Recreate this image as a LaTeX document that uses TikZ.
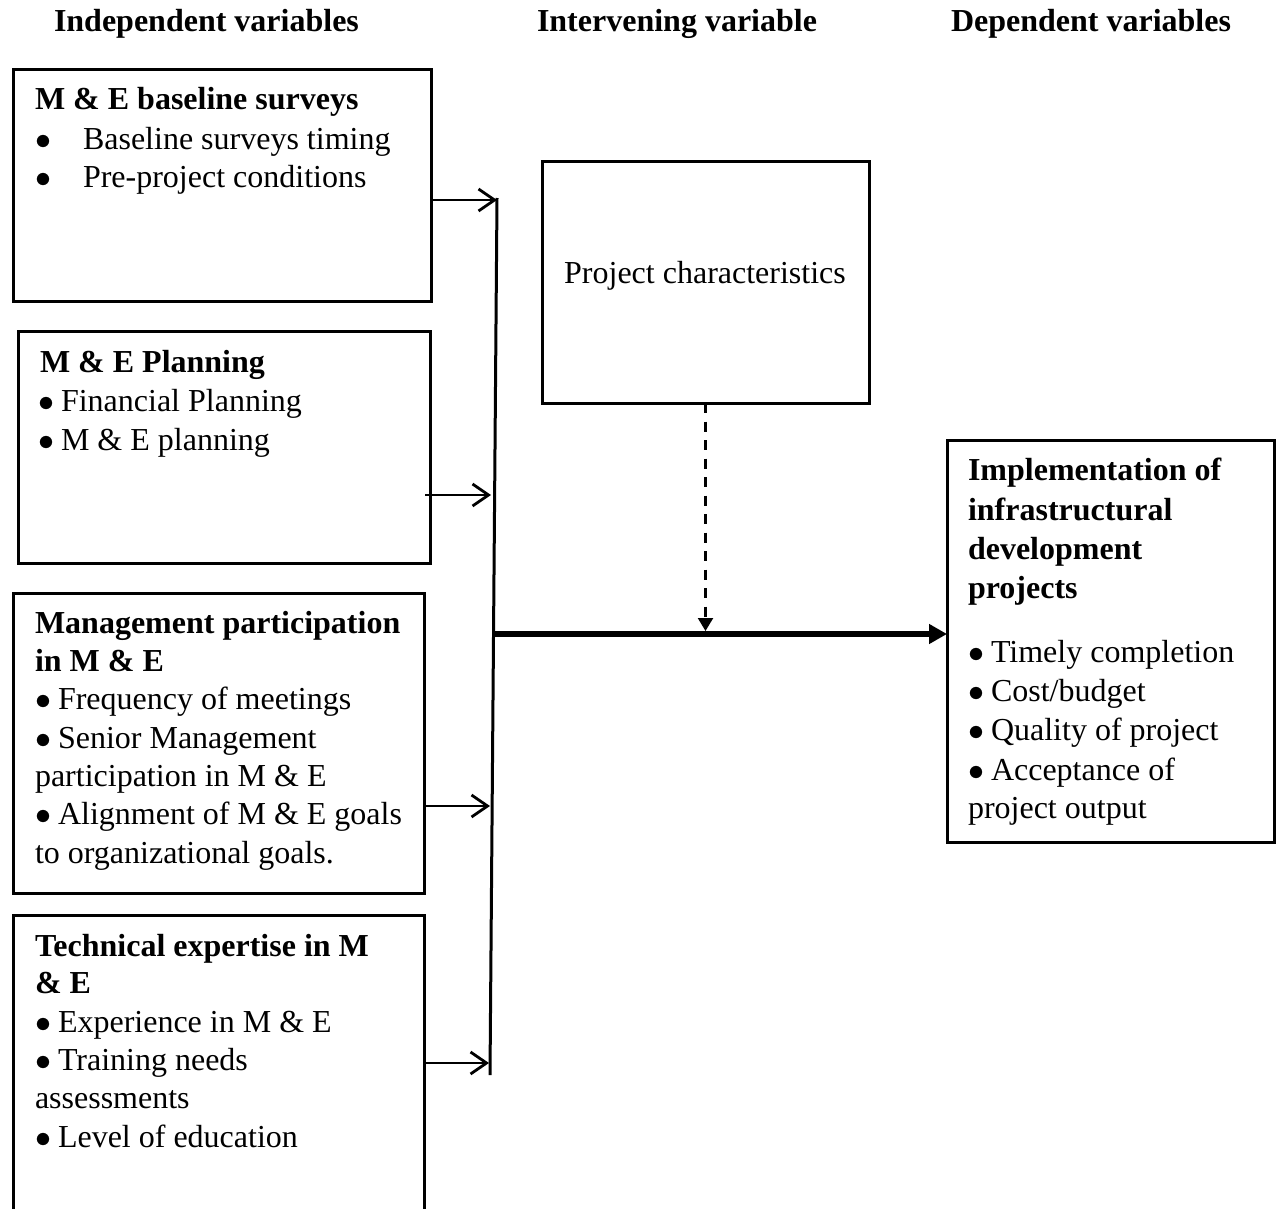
\RequirePackage{fix-cm}
\documentclass[tikz,border=0pt]{standalone}
\usepackage{fontspec}
\setmainfont{Liberation Serif}
\usetikzlibrary{arrows.meta,calc}
\newcommand\bul{\makebox[23pt][l]{$\bullet$}}
\begin{document}
\begin{tikzpicture}[x=1pt,y=-1pt,
  txt/.style={anchor=base west,inner sep=0pt,outer sep=0pt,font=\fontsize{32}{39}\selectfont},
  hd/.style={anchor=base west,inner sep=0pt,outer sep=0pt,font=\fontsize{32}{39}\selectfont\bfseries},
  frame/.style={draw,line width=3pt,inner sep=0pt,outer sep=0pt,anchor=north west},
  openframe/.style={inner sep=0pt,outer sep=0pt,anchor=north west},
  conn/.style={line width=3pt},
  feed/.style={line width=2.8pt,-{Straight Barb[length=16pt,width=22pt]}},
  mainarr/.style={line width=6pt,-{Triangle[length=18pt,width=19pt]}},
  modarr/.style={line width=2.2pt,dash pattern=on 10pt off 8.5pt,-{Triangle[length=13pt,width=15pt]}}
]
\useasboundingbox (0,0) rectangle (1279,1209);

% headers
\node[hd] (h1) at (54,32) {Independent variables};
\node[hd] (h2) at (537,32) {Intervening variable};
\node[hd] (h3) at (951,32) {Dependent variables};

% boxes
\node[frame,minimum width=418pt,minimum height=231pt] (b1) at (13,70) {};
\node[frame,minimum width=412pt,minimum height=232pt] (b2) at (18,331) {};
\node[frame,minimum width=411pt,minimum height=300pt] (b3) at (13,593) {};
\node[openframe,minimum width=411pt,minimum height=294pt] (b4) at (13,915) {};
\draw[line width=3pt] (b4.south west) -- (b4.north west) -- (b4.north east) -- (b4.south east);
\node[frame,minimum width=327pt,minimum height=241pt] (pc) at (542,162) {};
\node[frame,minimum width=327pt,minimum height=402pt] (b5) at (947,440) {};

% box 1 text
\node[hd] (t11) at (35,110) {M \& E baseline surveys};
\node[txt] (t12b) at (35,150) {$\bullet$};
\node[txt] (t12) at (83,150) {Baseline surveys timing};
\node[txt] (t13b) at (35,188) {$\bullet$};
\node[txt] (t13) at (83,188) {Pre-project conditions};

% box 2 text
\node[hd] (t21) at (40,372) {M \& E Planning};
\node[txt] (t22) at (38,411) {\bul Financial Planning};
\node[txt] (t23) at (38,450) {\bul M \& E planning};

% box 3 text
\node[hd] (t31) at (35,633) {Management participation};
\node[hd] (t32) at (35,671) {in M \& E};
\node[txt] (t33) at (35,709) {\bul Frequency of meetings};
\node[txt] (t34) at (35,748) {\bul Senior Management};
\node[txt] (t35) at (35,786) {participation in M \& E};
\node[txt] (t36) at (35,824) {\bul Alignment of M \& E goals};
\node[txt] (t37) at (35,863) {to organizational goals.};

% box 4 text
\node[hd] (t41) at (35,956) {Technical expertise in M};
\node[hd] (t42) at (35,993) {\& E};
\node[txt] (t43) at (35,1032) {\bul Experience in M \& E};
\node[txt] (t44) at (35,1070) {\bul Training needs};
\node[txt] (t45) at (35,1108) {assessments};
\node[txt] (t46) at (35,1147) {\bul Level of education};

% project characteristics
\node[anchor=base,inner sep=0pt,font=\fontsize{32}{39}\selectfont] (pct) at (705,283) {Project characteristics};

% box 5 text
\node[hd] (t51) at (968,480) {Implementation of};
\node[hd] (t52) at (968,520) {infrastructural};
\node[hd] (t53) at (968,559) {development};
\node[hd] (t54) at (968,598) {projects};
\node[txt] (t55) at (968,662) {\bul Timely completion};
\node[txt] (t56) at (968,701) {\bul Cost/budget};
\node[txt] (t57) at (968,740) {\bul Quality of project};
\node[txt] (t58) at (968,780) {\bul Acceptance of};
\node[txt] (t59) at (968,818) {project output};

% connectors
\coordinate (vt) at (497,198);
\coordinate (vb) at (490,1075);
\draw[conn] (vt) -- (vb);

\coordinate (s1) at (432,200);
\coordinate (e1) at (497,200);
\coordinate (s2) at (425,495);
\coordinate (e2) at (491,495);
\coordinate (s3) at (424,806);
\coordinate (e3) at (490,806);
\coordinate (s4) at (426,1063);
\coordinate (e4) at (489,1063);
\draw[feed] (s1) -- (e1);
\draw[feed] (s2) -- (e2);
\draw[feed] (s3) -- (e3);
\draw[feed] (s4) -- (e4);

\coordinate (hs) at (493,634);
\draw[mainarr] (hs) -- (b5.west |- hs);
\draw[modarr] (pc.south) -- ($(pc.south |- hs)+(0,-3)$);
\end{tikzpicture}
\end{document}
